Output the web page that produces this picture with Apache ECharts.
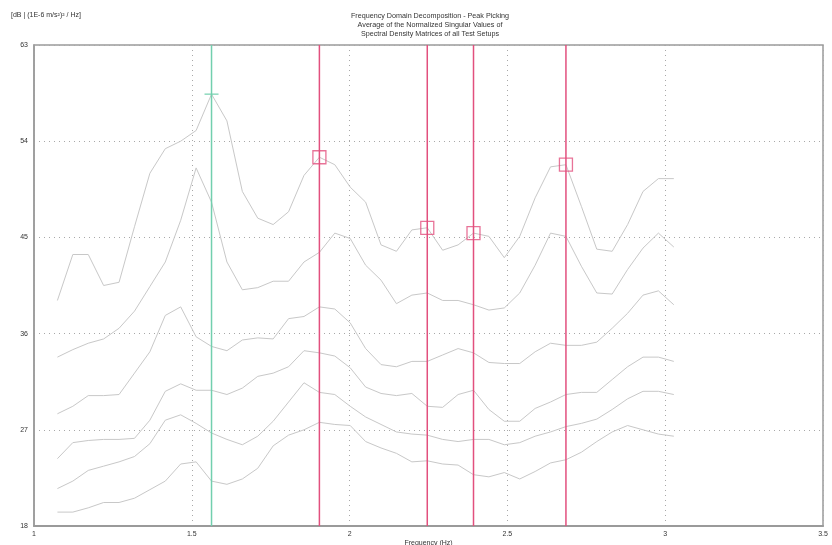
<!DOCTYPE html>
<html>
<head>
<meta charset="utf-8">
<script src="https://cdn.jsdelivr.net/npm/echarts@6/dist/echarts.min.js"></script>
<style>
  html, body { margin: 0; padding: 0; background: #fff; }
  #chart { width: 832px; height: 545px; }
</style>
</head>
<body>
<div id="chart"></div>
<script>
// Frequency lines (Hz)
var freqs = [1.0742,1.1230,1.1719,1.2207,1.2695,1.3184,1.3672,1.4160,1.4648,1.5137,
             1.5625,1.6113,1.6602,1.7090,1.7578,1.8066,1.8555,1.9043,1.9531,2.0020,
             2.0508,2.0996,2.1484,2.1973,2.2461,2.2949,2.3438,2.3926,2.4414,2.4902,
             2.5391,2.5879,2.6367,2.6855,2.7344,2.7832,2.8320,2.8809,2.9297,2.9785,3.0273];

// Singular values [dB]
var sv1 = [39.1,43.4,43.4,40.5,40.8,46.0,51.0,53.3,54.0,55.0,
           58.4,55.9,49.3,46.8,46.2,47.4,50.8,52.5,51.8,49.7,
           48.3,44.3,43.7,45.7,45.9,43.8,44.3,45.4,45.1,43.1,
           45.1,48.7,51.6,51.8,47.9,43.9,43.7,46.2,49.3,50.5,50.5];
var sv2 = [33.8,34.5,35.1,35.5,36.5,38.1,40.4,42.7,46.6,51.5,
           48.3,42.7,40.1,40.3,40.9,40.9,42.7,43.6,45.4,44.9,
           42.4,41.0,38.8,39.6,39.8,39.1,39.1,38.7,38.2,38.4,
           39.8,42.4,45.4,45.1,42.3,39.8,39.7,42.0,44.0,45.4,44.1];
var sv3 = [28.5,29.2,30.2,30.2,30.3,32.3,34.3,37.7,38.5,35.7,
           34.8,34.4,35.4,35.6,35.5,37.4,37.6,38.5,38.3,37.0,
           34.6,33.1,32.9,33.4,33.4,34.0,34.6,34.2,33.3,33.2,
           33.2,34.3,35.1,34.9,34.9,35.2,36.5,37.9,39.6,40.0,38.7];
var sv4 = [24.3,25.8,26.0,26.1,26.1,26.2,27.9,30.6,31.3,30.7,
           30.7,30.3,30.9,32.0,32.3,32.9,34.4,34.2,33.9,32.8,
           31.0,30.4,30.2,30.4,29.2,29.1,30.3,30.7,28.9,27.8,
           27.8,29.0,29.6,30.3,30.5,30.5,31.7,32.9,33.8,33.8,33.4];
var sv5 = [21.5,22.2,23.2,23.6,24.0,24.5,25.7,27.9,28.4,27.6,
           26.7,26.1,25.6,26.4,27.8,29.6,31.4,30.5,30.3,29.2,
           28.2,27.5,26.8,26.6,26.5,26.1,25.9,26.1,26.1,25.6,
           25.8,26.4,26.8,27.3,27.6,28.0,28.9,29.9,30.6,30.6,30.3];
var sv6 = [19.3,19.3,19.7,20.2,20.2,20.6,21.4,22.2,23.8,24.0,
           22.2,21.9,22.4,23.4,25.5,26.5,27.0,27.7,27.5,27.4,
           25.9,25.3,24.8,24.0,24.1,23.8,23.7,22.8,22.6,23.0,
           22.4,23.1,23.9,24.2,24.9,25.9,26.8,27.4,27.0,26.6,26.4];

// Picked peaks
var selectedPeakFreq = [1.5625];
var selectedPeakValue = [58.4];
var peakFreqs = [1.9043, 2.2461, 2.3926, 2.6855];
var peakValues = [52.5, 45.9, 45.4, 51.8];

// Axis ticks
var xTicks = [1, 1.5, 2, 2.5, 3, 3.5];
var yTicks = [18, 27, 36, 45, 54, 63];

var titleLines = ['Frequency Domain Decomposition - Peak Picking',
                  'Average of the Normalized Singular Values of',
                  'Spectral Density Matrices of all Test Setups'];
var unitLabel = '[dB | (1E-6 m/s\u00B2)\u00B2 / Hz]';
var xName = 'Frequency (Hz)';

var FONT = '"Liberation Sans", Arial, sans-serif';
var CURVE = '#c8c8c8';
var RED = '#e2507e';
var GREEN = '#72cfae';

var xMin = xTicks[0], xMax = xTicks[xTicks.length - 1];
var yMin = yTicks[0], yMax = yTicks[yTicks.length - 1];

function pairs(xs, ys) { return xs.map(function (x, i) { return [x, ys[i]]; }); }

var series = [];
[sv1, sv2, sv3, sv4, sv5, sv6].forEach(function (sv) {
  series.push({
    type: 'line', data: pairs(freqs, sv), showSymbol: false, silent: true,
    lineStyle: { color: CURVE, width: 1 }, z: 2
  });
});
selectedPeakFreq.forEach(function (f) {
  series.push({ type: 'line', data: [[f, yMin], [f, yMax]], showSymbol: false, silent: true,
    lineStyle: { color: GREEN, width: 1.5 }, z: 3 });
});
peakFreqs.forEach(function (f) {
  series.push({ type: 'line', data: [[f, yMin], [f, yMax]], showSymbol: false, silent: true,
    lineStyle: { color: RED, width: 1.5 }, z: 3 });
});
series.push({
  type: 'scatter', data: pairs(peakFreqs, peakValues), symbol: 'rect', symbolSize: 13, silent: true,
  itemStyle: { color: 'rgba(0,0,0,0)', borderColor: RED, borderWidth: 1.3 }, z: 4
});
series.push({
  type: 'scatter', data: pairs(selectedPeakFreq, selectedPeakValue), symbol: 'rect', symbolSize: [14, 1.5], silent: true,
  itemStyle: { color: GREEN }, z: 4
});

var chart = echarts.init(document.getElementById('chart'), null, { renderer: 'canvas' });
chart.setOption({
  animation: false,
  backgroundColor: '#ffffff',
  grid: { left: 34, top: 45, right: 9, bottom: 19, show: true, borderColor: '#9a9a9a', borderWidth: 1.5,
          backgroundColor: '#fff', containLabel: false, outerBoundsMode: 'none' },
  xAxis: {
    type: 'value', min: xMin, max: xMax, interval: 0.5,
    name: xName, nameLocation: 'middle', nameGap: 14, nameMoveOverlap: false,
    nameTextStyle: { fontFamily: FONT, fontSize: 7, color: '#333' },
    axisLine: { show: true, lineStyle: { color: '#9a9a9a', width: 2 } },
    axisTick: { show: false },
    axisLabel: { fontFamily: FONT, fontSize: 7, color: '#333', margin: 5,
      formatter: function (v) { return String(v); } },
    splitLine: { show: true, lineStyle: { color: '#a8a8a8', width: 1, type: [1, 4] } }
  },
  yAxis: {
    type: 'value', min: yMin, max: yMax, interval: 9,
    axisLine: { show: true, lineStyle: { color: '#9a9a9a', width: 1.5 } },
    axisTick: { show: false },
    axisLabel: { fontFamily: FONT, fontSize: 7, color: '#333', margin: 6 },
    splitLine: { show: true, lineStyle: { color: '#a8a8a8', width: 1, type: [1, 4] } }
  },
  graphic: [
    { type: 'text', left: 11, top: 12, style: { text: unitLabel, fontFamily: FONT, fontSize: 7, fill: '#333' } },
    { type: 'text', x: 430, y: 12, style: { text: titleLines.join('\n'), fontFamily: FONT, fontSize: 7.2, lineHeight: 9, fill: '#333', textAlign: 'center' } }
  ],
  series: series
});
</script>
</body>
</html>
